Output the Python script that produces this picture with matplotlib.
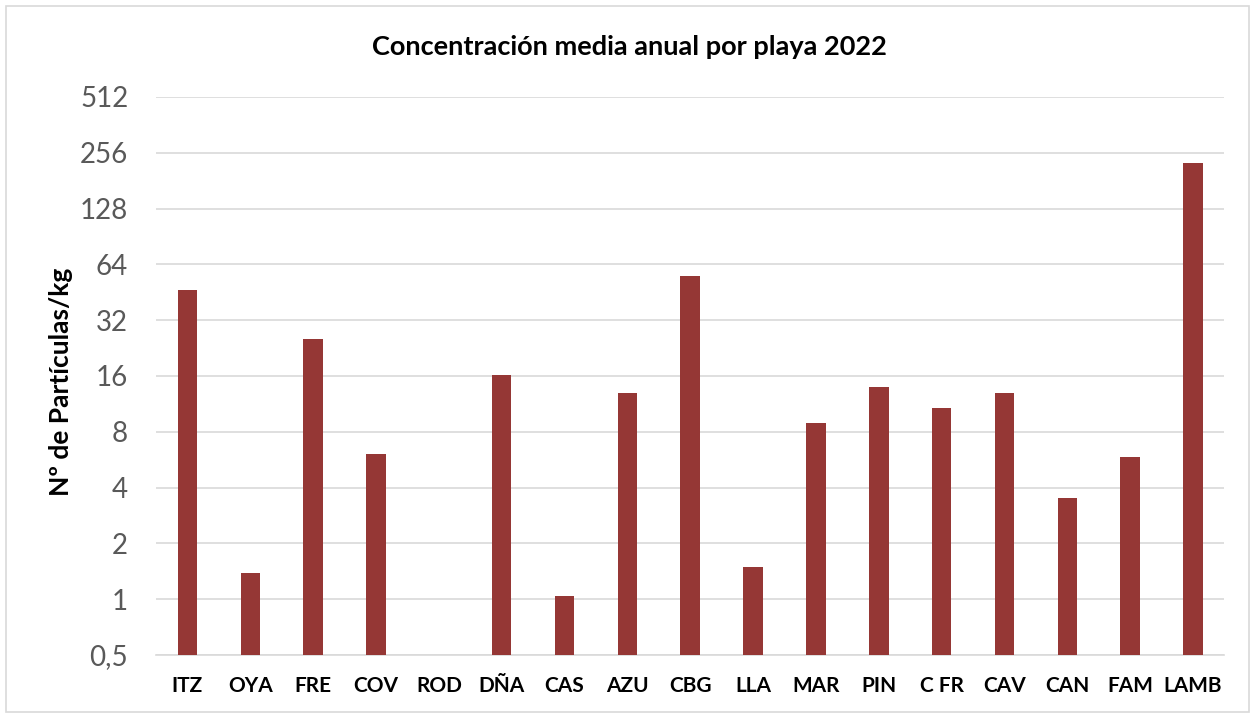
import matplotlib.pyplot as plt
import numpy as np
from matplotlib.patches import Rectangle

# ==== data ====
playas = ['ITZ', 'OYA', 'FRE', 'COV', 'ROD', 'DÑA', 'CAS', 'AZU', 'CBG',
          'LLA', 'MAR', 'PIN', 'C FR', 'CAV', 'CAN', 'FAM', 'LAMB']
conc = [46.5, 1.39, 25.3, 6.1, np.nan, 16.2, 1.04, 13.0, 55.4,
        1.49, 8.9, 13.9, 10.7, 13.0, 3.5, 5.85, 225]
yticks = [0.5, 1, 2, 4, 8, 16, 32, 64, 128, 256, 512]
ytick_labels = ['0,5', '1', '2', '4', '8', '16', '32', '64', '128', '256', '512']

plt.rcParams['font.family'] = ['Lato', 'DejaVu Sans']

fig = plt.figure(figsize=(12.52, 7.13), dpi=100)
ax = fig.add_axes([0.1246, 0.0814, 0.8534, 0.7826])

x = np.arange(len(playas))
vals = np.array(conc)
ax.bar(x, vals - 0.5, bottom=0.5, width=0.31, color='#953735', zorder=3)

ax.set_yscale('log', base=2)
ax.set_ylim(0.5, 512)
ax.set_xlim(-0.5, len(playas) - 0.5)
ax.set_yticks(yticks)
ax.set_yticklabels(ytick_labels)
ax.minorticks_off()
ax.yaxis.grid(True, color='#d9d9d9', linewidth=1.2, zorder=0)
ax.tick_params(axis='y', length=0, labelsize=20, labelcolor='#595959', pad=20)
ax.set_xticks(x)
ax.set_xticklabels(playas, fontsize=15, fontweight='bold')
ax.tick_params(axis='x', length=0, pad=15)
for s in ['top', 'right', 'left']:
    ax.spines[s].set_visible(False)
ax.spines['bottom'].set_color('#d9d9d9')
ax.spines['bottom'].set_linewidth(1.2)

ax.set_ylabel('Nº de Partículas/kg', fontsize=19, fontweight='bold')
ax.yaxis.set_label_coords(-0.078, 0.49)
fig.text(0.503, 0.934, 'Concentración media anual por playa 2022',
         ha='center', va='center', fontsize=19.5, fontweight='bold')

fig.patches.append(Rectangle((0.005, 0.002), 0.993, 0.99, transform=fig.transFigure,
                             fill=False, edgecolor='#d9d9d9', linewidth=1.2))

fig.savefig('out.png', dpi=100)
